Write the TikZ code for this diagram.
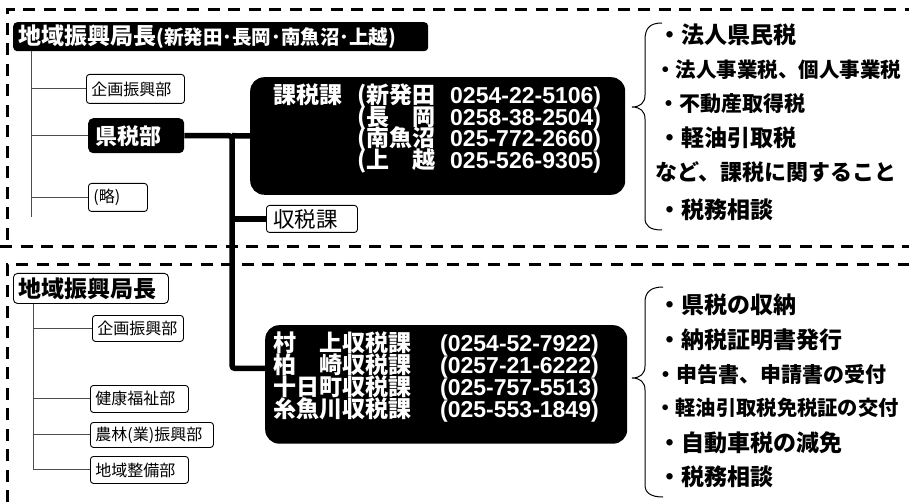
\documentclass[tikz,border=0pt]{standalone}
\usepackage{fontspec}
\setmainfont{Noto Sans CJK JP}
\newfontfamily\numfont{Liberation Sans}
\usetikzlibrary{positioning}
\newcommand\fsz[1]{\fontsize{#1}{#1}\selectfont}
\tikzset{
  frame/.style={line width=3pt, dash pattern=on 12pt off 8.5pt},
  tree/.style={line width=1pt, black!70},
  link/.style={line width=5.5pt},
  brace/.style={line width=1pt},
  dept/.style={draw, line width=0.9pt, rounded corners=3pt, anchor=north west,
    align=left, inner xsep=5pt, inner ysep=0pt, font=\fsz{16}},
  blackbox/.style={fill=black, text=white, anchor=north west, align=left, inner ysep=0pt},
  duty/.style={anchor=west, inner sep=0pt},
}
\begin{document}
\begin{tikzpicture}[x=1pt, y=-1pt]
    \useasboundingbox (0,0) rectangle (909,502);
    % dashed frames
    \draw [frame] (7,240) -- (7,10) -- (909,10);
    \draw [frame] (0,247) -- (909,247);
    \draw [frame] (7,502) -- (7,265) -- (909,265);

    % upper office
    \node [blackbox, rounded corners=4pt, inner xsep=5pt, text width=405pt, minimum height=29pt]
        (head1) at (13,22) {\bfseries\fsz{23}地域振興局長\fsz{19.5}(新発田･長岡･南魚沼･上越)};
    \node [dept, text width=88pt, minimum height=29pt] (kikaku1) at (86,74) {企画振興部};
    \node [blackbox, rounded corners=5pt, inner xsep=7pt, text width=82pt, minimum height=35pt,
        font={\bfseries\fsz{22}}] (kenzei) at (88,118) {県税部};
    \node [dept, text width=49pt, minimum height=28pt] (ryaku) at (88,183) {(略)};
    \coordinate (trunkA) at (31,217);
    \draw [tree] (head1.south -| trunkA) -- (trunkA);
    \foreach \n in {kikaku1, kenzei, ryaku}
        \draw [tree] (\n.west -| trunkA) -- (\n.west);

    % tax sections
    \node [blackbox, rounded corners=14pt, inner xsep=23pt, inner ysep=6.5pt, text width=329pt,
        font={\bfseries\fontsize{23}{21.7}\selectfont\lineskiplimit=-20pt}] (kazei) at (250,77) {%
        \makebox[84pt][l]{課税課}\makebox[93pt][l]{(新発田}{\numfont 0254-22-5106)}\\
        \hspace*{84pt}\makebox[93pt][l]{(長　岡}{\numfont 0258-38-2504)}\\
        \hspace*{84pt}\makebox[93pt][l]{(南魚沼}{\numfont 025-772-2660)}\\
        \hspace*{84pt}\makebox[93pt][l]{(上　越}{\numfont 025-526-9305)}\par\vspace*{15pt}};
    \node [dept, inner xsep=7pt, text width=77pt, minimum height=27pt, font=\fsz{21.5}]
        (shuzei) at (266,205) {収税課};
    \node [blackbox, rounded corners=14pt, inner xsep=8pt, inner ysep=6.5pt, text width=346pt,
        font={\bfseries\fontsize{23}{22}\selectfont\lineskiplimit=-20pt}] (chozei) at (265,325) {%
        \makebox[167pt][l]{村　上収税課}{\numfont (0254-52-7922)}\\
        \makebox[167pt][l]{柏　崎収税課}{\numfont (0257-21-6222)}\\
        \makebox[167pt][l]{十日町収税課}{\numfont (025-757-5513)}\\
        \makebox[167pt][l]{糸魚川収税課}{\numfont (025-553-1849)}\par\vspace*{15pt}};
    \coordinate (spine) at (232,0);
    \draw [link, rounded corners=3pt] (kenzei.east) -- (kenzei.east -| spine)
        |- ([yshift=16pt]chozei.west);
    \draw [link] (kenzei.east -| spine) -- (kazei.west);
    \draw [link] (shuzei.west -| spine) -- (shuzei.west);

    % lower office
    \node [dept, rounded corners=4pt, text width=145pt, minimum height=30pt, font={\bfseries\fsz{23}}]
        (head2) at (13,273) {地域振興局長};
    \node [dept, text width=81pt, minimum height=26pt] (kikaku2) at (92,315) {企画振興部};
    \node [dept, text width=88pt, minimum height=27pt] (kenko) at (90,385) {健康福祉部};
    \node [dept, text width=113pt, minimum height=25pt] (nourin) at (90,422) {農林(業)振興部};
    \node [dept, text width=88pt, minimum height=27pt] (seibi) at (90,456) {地域整備部};
    \coordinate (trunkB) at (33,0);
    \draw [tree] (head2.south -| trunkB) |- (seibi.west);
    \foreach \n in {kikaku2, kenko, nourin}
        \draw [tree] (\n.west -| trunkB) -- (\n.west);

    % duties of the tax sections
    \draw [brace] (662,23) .. controls (650,23) and (645,28) .. (645,40) -- (645,95)
        .. controls (645,103) and (640,107) .. (632,107)
        .. controls (640,107) and (645,111) .. (645,119) -- (645,218)
        .. controls (645,226) and (650,230) .. (662,230);
    \node [duty, font={\bfseries\fsz{23}}] (kz1) at (658,35) {・法人県民税};
    \node [duty, font={\bfseries\fsz{20.5}}] (kz2) at (655,70) {・法人事業税、個人事業税};
    \node [duty, font={\bfseries\fsz{21}}] (kz3) at (658,104) {・不動産取得税};
    \node [duty, font={\bfseries\fsz{23}}] (kz4) at (658,138) {・軽油引取税};
    \node [duty, font={\bfseries\fsz{22}}] (kz5) at (655,172) {など、課税に関すること};
    \node [duty, font={\bfseries\fsz{23}}] (kz6) at (658,210) {・税務相談};

    \draw [brace] (663,287) .. controls (651,287) and (645,292) .. (645,302) -- (645,366)
        .. controls (645,374) and (640,378) .. (632,378)
        .. controls (640,378) and (645,382) .. (645,390) -- (645,485)
        .. controls (645,493) and (651,497) .. (663,497);
    \node [duty, font={\bfseries\fsz{23}}] (cz1) at (658,305) {・県税の収納};
    \node [duty, font={\bfseries\fsz{23}}] (cz2) at (658,340) {・納税証明書発行};
    \node [duty, font={\bfseries\fsz{21}}] (cz3) at (655,374) {・申告書、申請書の受付};
    \node [duty, font={\bfseries\fsz{20.3}}] (cz4) at (655,408) {・軽油引取税免税証の交付};
    \node [duty, font={\bfseries\fsz{23}}] (cz5) at (658,443) {・自動車税の減免};
    \node [duty, font={\bfseries\fsz{23}}] (cz6) at (658,477) {・税務相談};
\end{tikzpicture}
\end{document}
